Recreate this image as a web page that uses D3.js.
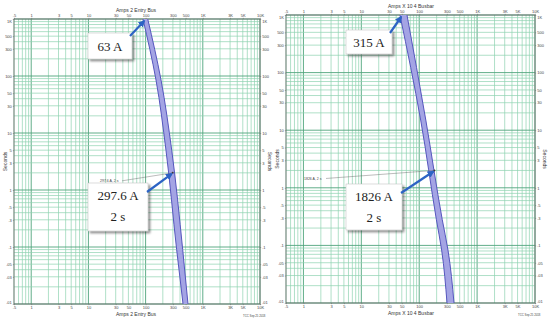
<!DOCTYPE html>
<html>
<head>
<meta charset="utf-8">
<script src="https://cdn.jsdelivr.net/npm/d3@7"></script>
<style>
  body { margin: 0; background: #fff; }
  svg { display: block; }
  .tick { font-family: "Liberation Sans", Arial, sans-serif; font-size: 4px; fill: #444; }
  .ttl { font-family: "Liberation Sans", Arial, sans-serif; font-size: 5px; fill: #333; }
  .call { font-family: "Liberation Serif", "Times New Roman", serif; font-size: 13px; fill: #222; }
</style>
</head>
<body>
<script>
// grid multiples within each decade
var gridMult = [1, 2, 3, 4, 5, 6, 7, 8, 9];

// current axis (log), tick labels
var ampTicks = [0.5, 1, 3, 5, 10, 30, 50, 100, 300, 500, 1000, 3000, 5000, 10000];
var ampLabels = [".5", "1", "3", "5", "10", "30", "50", "100", "300", "500", "1K", "3K", "5K", "10K"];

// time axis (log), tick labels
var secTicks = [1000, 500, 300, 100, 50, 30, 10, 5, 3, 1, 0.5, 0.3, 0.1, 0.05, 0.03, 0.01];
var secLabels = ["1K", "500", "300", "100", "50", "30", "10", "5", "3", "1", ".5", ".3", ".1", ".05", ".03", ".01"];

// left chart: 2 Entry Bus breaker band
var busSeconds = [1000, 85, 5, 0.09, 0.01];
var busAmpsLow = [90, 152, 227, 349, 451];
var busAmpsHigh = [109, 186, 286, 445, 551];
var busPoint = [297.6, 2];
var busTop = [63];

// right chart: 4 Busbar band (amps x 10)
var barSeconds = [1000, 15, 0.28, 0.083, 0.01];
var barAmpsLow = [46.5, 106, 198, 244, 302];
var barAmpsHigh = [61.5, 130, 250, 314, 399];
var barPoint = [182.6, 2];
var barTop = [31.5];

var width = 550, height = 320;

var svg = d3.select("body").append("svg")
    .attr("width", width)
    .attr("height", height);

var defs = svg.append("defs");
defs.append("marker")
    .attr("id", "arrow")
    .attr("viewBox", "0 0 10 10")
    .attr("refX", 8).attr("refY", 5)
    .attr("markerWidth", 3.2).attr("markerHeight", 3.2)
    .attr("orient", "auto")
  .append("path")
    .attr("d", "M0,0L10,5L0,10z")
    .attr("fill", "#2c63c4");
defs.append("filter")
    .attr("id", "shadow")
    .attr("x", "-20%").attr("y", "-20%").attr("width", "150%").attr("height", "150%")
  .append("feDropShadow")
    .attr("dx", 2).attr("dy", 2).attr("stdDeviation", 1.2)
    .attr("flood-color", "#000").attr("flood-opacity", 0.45);

function decadeLines(lo, hi){
    var out = [];
    for (var e = Math.floor(Math.log10(lo)) - 1; e <= Math.ceil(Math.log10(hi)); e++){
        gridMult.forEach(function(m){
            var v = m * Math.pow(10, e);
            if (v >= lo * 0.999 && v <= hi * 1.001) out.push({v: v, major: m == 1});
        });
    }
    return out;
}

function drawPanel(p){
    var g = svg.append("g");

    var x = d3.scaleLog().domain([0.5, 10000]).range([p.x0, p.x1]);
    var y = d3.scaleLog().domain([1000, 0.01]).range([p.y0, p.y1]);

    // grid
    g.selectAll(".vgrid")
        .data(decadeLines(0.5, 10000))
        .enter().append("line")
        .attr("x1", function(d){ return x(d.v); })
        .attr("x2", function(d){ return x(d.v); })
        .attr("y1", p.y0).attr("y2", p.y1)
        .attr("stroke", function(d){ return d.major ? "#4fa47c" : "#8ed3b0"; })
        .attr("stroke-width", function(d){ return d.major ? 0.9 : 0.7; });

    g.selectAll(".hgrid")
        .data(decadeLines(0.01, 1000))
        .enter().append("line")
        .attr("y1", function(d){ return y(d.v); })
        .attr("y2", function(d){ return y(d.v); })
        .attr("x1", p.x0).attr("x2", p.x1)
        .attr("stroke", function(d){ return d.major ? "#4fa47c" : "#8ed3b0"; })
        .attr("stroke-width", function(d){ return d.major ? 0.9 : 0.7; });

    g.append("rect")
        .attr("x", p.x0).attr("y", p.y0)
        .attr("width", p.x1 - p.x0).attr("height", p.y1 - p.y0)
        .attr("fill", "none").attr("stroke", "#666").attr("stroke-width", 0.8);

    // axes on all four sides
    var ax = [
        {a: d3.axisTop(x), t: "translate(0," + p.y0 + ")"},
        {a: d3.axisBottom(x), t: "translate(0," + p.y1 + ")"}
    ];
    ax.forEach(function(o){
        g.append("g").attr("transform", o.t)
            .call(o.a.tickValues(ampTicks)
                .tickFormat(function(d, i){ return ampLabels[i]; })
                .tickSize(1.2).tickPadding(0.8))
            .call(styleAxis);
    });
    var ay = [
        {a: d3.axisLeft(y), t: "translate(" + p.x0 + ",0)"},
        {a: d3.axisRight(y), t: "translate(" + p.x1 + ",0)"}
    ];
    ay.forEach(function(o){
        var gy = g.append("g").attr("transform", o.t)
            .call(o.a.tickValues(secTicks)
                .tickFormat(function(d, i){ return secLabels[i]; })
                .tickSize(1.2).tickPadding(1))
            .call(styleAxis);
        // keep corner labels clear of the amp labels
        gy.selectAll(".tick text")
            .attr("dy", function(d, i){
                if (i == 0) return "0.9em";
                if (i == secTicks.length - 1) return "-0.15em";
                return "0.32em";
            });
    });

    // titles
    g.append("text").attr("class", "ttl")
        .attr("x", p.titleX).attr("y", p.y0 - 7.5).text(p.title);
    g.append("text").attr("class", "ttl")
        .attr("x", p.titleX).attr("y", p.y1 + 12).text(p.title);
    g.append("text").attr("class", "ttl")
        .attr("transform", "translate(" + (p.x0 - 7.5) + "," + ((p.y0 + p.y1) / 2) + ") rotate(-90)")
        .attr("text-anchor", "middle").text("Seconds");
    g.append("text").attr("class", "ttl")
        .attr("transform", "translate(" + (p.x1 + 7.5) + "," + ((p.y0 + p.y1) / 2) + ") rotate(90)")
        .attr("text-anchor", "middle").text("Seconds");
    g.append("text").attr("class", "tick")
        .attr("x", p.x1 - 17).attr("y", p.y1 + 13).style("font-size", "2.8px")
        .text("TCC Sep 25 2018");

    // band
    var pts = p.low.map(function(a, i){ return [a, p.sec[i]]; });
    var ptsHi = p.high.map(function(a, i){ return [a, p.sec[i]]; }).reverse();
    var line = d3.line()
        .x(function(d){ return x(d[0]); })
        .y(function(d){ return y(d[1]); })
        .curve(d3.curveMonotoneY);
    var clip = "clip" + p.id;
    defs.append("clipPath").attr("id", clip).append("rect")
        .attr("x", p.x0).attr("y", p.y0)
        .attr("width", p.x1 - p.x0).attr("height", p.y1 - p.y0);
    var band = g.append("g").attr("clip-path", "url(#" + clip + ")");
    band.append("path")
        .attr("d", line(pts) + "L" + line(ptsHi).slice(1) + "Z")
        .attr("fill", "#a4a4e4").attr("stroke", "none");
    band.append("path").attr("d", line(pts))
        .attr("fill", "none").attr("stroke", "#5656be").attr("stroke-width", 1);
    band.append("path").attr("d", line(ptsHi))
        .attr("fill", "none").attr("stroke", "#5656be").attr("stroke-width", 1);

    // 2 s point with small label
    var px = x(p.point[0]), py = y(p.point[1]);
    g.append("circle").attr("cx", px).attr("cy", py).attr("r", 1).attr("fill", "#333");
    g.append("line")
        .attr("x1", px).attr("y1", py)
        .attr("x2", p.smallX + 22).attr("y2", py + 8)
        .attr("stroke", "#555").attr("stroke-width", 0.4);
    g.append("text").attr("class", "tick").style("font-size", "3.5px")
        .attr("x", p.smallX).attr("y", py + 9.5).text(p.smallText);

    // callout boxes
    function callout(bx, by, bw, bh, lines){
        g.append("rect")
            .attr("x", bx).attr("y", by).attr("width", bw).attr("height", bh)
            .attr("fill", "#fff").attr("stroke", "#bbb").attr("stroke-width", 0.5)
            .attr("filter", "url(#shadow)");
        lines.forEach(function(t, i){
            g.append("text").attr("class", "call")
                .attr("x", bx + bw / 2).attr("y", by + (lines.length == 1 ? bh / 2 + 4.5 : 17 + i * 21))
                .attr("text-anchor", "middle").text(t);
        });
    }
    callout(p.topBox[0], p.topBox[1], p.topBox[2], p.topBox[3], [p.topText]);
    callout(p.ptBox[0], p.ptBox[1], p.ptBox[2], p.ptBox[3], [p.ptText, "2 s"]);

    // arrows
    g.append("line")
        .attr("x1", p.topBox[0] + p.topBox[2] - 2).attr("y1", p.topBox[1] + 3)
        .attr("x2", x(p.topAt[0])).attr("y2", p.y0 + 2)
        .attr("stroke", "#2c63c4").attr("stroke-width", 2.2)
        .attr("marker-end", "url(#arrow)");
    g.append("line")
        .attr("x1", p.ptBox[0] + p.ptBox[2] - 1).attr("y1", p.ptBox[1] + 9)
        .attr("x2", px - 1).attr("y2", py + 1)
        .attr("stroke", "#2c63c4").attr("stroke-width", 2.2)
        .attr("marker-end", "url(#arrow)");
}

function styleAxis(sel){
    sel.select(".domain").remove();
    sel.selectAll(".tick line").attr("stroke", "#666").attr("stroke-width", 0.5);
    sel.selectAll(".tick text")
        .attr("fill", "#444")
        .style("font-family", "Liberation Sans, Arial, sans-serif")
        .style("font-size", "4px");
}

drawPanel({
    id: "bus", x0: 14, x1: 260, y0: 19, y1: 304,
    title: "Amps  2 Entry Bus", titleX: 116,
    sec: busSeconds, low: busAmpsLow, high: busAmpsHigh,
    point: busPoint, topAt: [busAmpsLow[0] * 1.05],
    smallText: "297.6 A, 2 s", smallX: 100,
    topBox: [88, 33, 44, 26], topText: busTop[0] + " A",
    ptBox: [88, 183, 60, 48], ptText: busPoint[0] + " A"
});

drawPanel({
    id: "bar", x0: 286, x1: 535, y0: 15, y1: 303,
    title: "Amps  X  10   4 Busbar", titleX: 388,
    sec: barSeconds, low: barAmpsLow, high: barAmpsHigh,
    point: barPoint, topAt: [barAmpsLow[0] * 1.05],
    smallText: "1826 A, 2 s", smallX: 304,
    topBox: [346, 30, 46, 24], topText: (barTop[0] * 10) + " A",
    ptBox: [346, 184, 56, 46], ptText: (barPoint[0] * 10) + " A"
});
</script>
</body>
</html>
